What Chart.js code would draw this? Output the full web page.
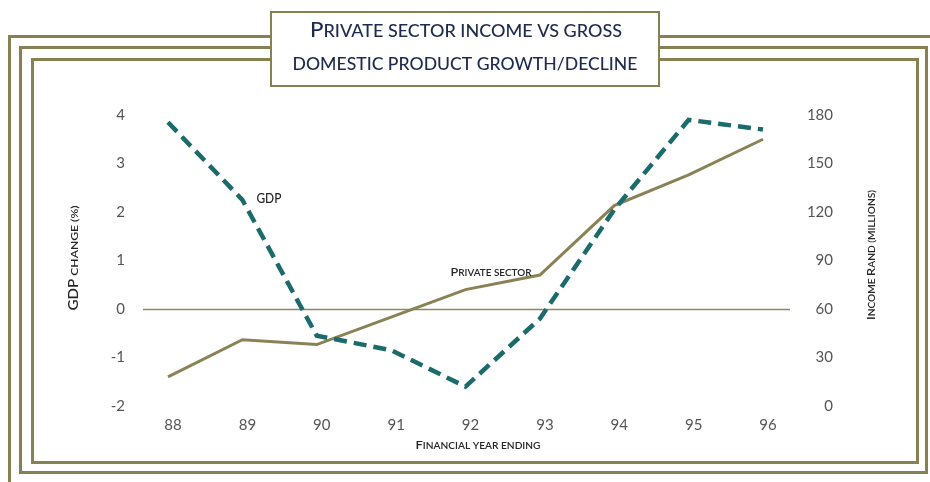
<!DOCTYPE html>
<html>
<head>
<meta charset="utf-8">
<script src="https://cdn.jsdelivr.net/npm/chart.js@4.4.1/dist/chart.umd.min.js"></script>
<style>
  html, body { margin: 0; padding: 0; background: #ffffff; }
  #wrap { width: 930px; height: 482px; position: relative; }
  canvas { display: block; }
</style>
</head>
<body>
<div id="wrap"><canvas id="chart" width="930" height="482"></canvas></div>
<script>
// Financial years and the two series
const years = ['88', '89', '90', '91', '92', '93', '94', '95', '96'];
const gdpChange = [3.85, 2.25, -0.55, -0.85, -1.6, -0.2, 2.05, 3.9, 3.7];      // % change
const privateIncome = [18, 41, 38, 55, 72, 81, 124, 143, 165];                  // Rand millions
const gdpTicks = [-2, -1, 0, 1, 2, 3, 4];
const incomeTicks = [0, 30, 60, 90, 120, 150, 180];

const titleLines = ['Private sector income vs gross', 'domestic product growth/decline'];
const gdpAxisTitle = 'GDP change (%)';
const incomeAxisTitle = 'Income Rand (millions)';
const yearAxisTitle = 'Financial year ending';
const gdpLabel = 'GDP';
const privateLabel = 'Private sector';

const OLIVE = '#878052';
const TEAL = '#1b6a6c';
const NAVY = '#1e2a4f';
const INK = '#262626';
const FAMILY = 'Lato, "Open Sans", sans-serif';

// Draws text in small capitals: capitals at the large size, lower case raised to capitals at the small size
function drawSmallCaps(ctx, text, x, y, big, small, align, color, fitWidth, weight) {
  weight = weight || 400;
  const runs = [];
  for (const ch of text) {
    const isUpperLetter = ch !== ch.toLowerCase();
    const size = isUpperLetter ? big : small;
    const c = ch.toUpperCase();
    const last = runs[runs.length - 1];
    if (last && last.size === size) last.t += c;
    else runs.push({ t: c, size: size });
  }
  let w = 0;
  runs.forEach(r => {
    ctx.font = weight + ' ' + r.size + 'px ' + FAMILY;
    r.w = ctx.measureText(r.t).width;
    w += r.w;
  });
  const sx = fitWidth ? fitWidth / w : 1;
  const total = w * sx;
  let start = align === 'center' ? x - total / 2 : align === 'right' ? x - total : x;
  ctx.save();
  ctx.fillStyle = color;
  ctx.textAlign = 'left';
  ctx.textBaseline = 'alphabetic';
  ctx.translate(start, y);
  ctx.scale(sx, 1);
  let cx = 0;
  runs.forEach(r => {
    ctx.font = weight + ' ' + r.size + 'px ' + FAMILY;
    ctx.fillText(r.t, cx, 0);
    cx += r.w;
  });
  ctx.restore();
}

// Triple olive border, title panel and the zero reference line
const decorations = {
  id: 'decorations',
  beforeDraw(chart) {
    const ctx = chart.ctx;
    ctx.save();
    ctx.fillStyle = '#ffffff';
    ctx.fillRect(0, 0, chart.width, chart.height);
    ctx.strokeStyle = OLIVE;
    ctx.lineWidth = 3;
    ctx.strokeRect(9.5, 36.5, 940, 460);
    ctx.strokeRect(20.5, 47.5, 906, 425);
    ctx.strokeRect(32.5, 59.5, 885, 403);
    // title panel
    ctx.fillStyle = '#ffffff';
    ctx.fillRect(271, 12, 388, 74);
    ctx.lineWidth = 2;
    ctx.strokeRect(271, 12, 388, 74);
    ctx.restore();
    drawSmallCaps(ctx, titleLines[0], 466, 37, 21, 17, 'center', NAVY, 312, 500);
    drawSmallCaps(ctx, titleLines[1], 465, 70, 17, 17, 'center', NAVY, 345, 500);
  },
  beforeDatasetsDraw(chart) {
    const ctx = chart.ctx;
    const y0 = Math.round(chart.scales.y.getPixelForValue(0)) + 0.5;
    const a = chart.chartArea;
    ctx.save();
    ctx.strokeStyle = '#8e8762';
    ctx.lineWidth = 1.3;
    ctx.beginPath();
    ctx.moveTo(a.left - 25, y0);
    ctx.lineTo(a.right + 27, y0);
    ctx.stroke();
    ctx.restore();
  },
  afterDraw(chart) {
    const ctx = chart.ctx;
    const x = chart.scales.x, y = chart.scales.y, y1 = chart.scales.y1;
    // axis titles
    ctx.save();
    ctx.translate(73, 258);
    ctx.rotate(-Math.PI / 2);
    drawSmallCaps(ctx, gdpAxisTitle, 0, 4.5, 12.5, 10, 'center', INK, 105, 600);
    ctx.restore();
    ctx.save();
    ctx.translate(870, 255);
    ctx.rotate(-Math.PI / 2);
    drawSmallCaps(ctx, incomeAxisTitle, 0, 4.5, 12, 9.5, 'center', INK, 130, 600);
    ctx.restore();
    drawSmallCaps(ctx, yearAxisTitle, 478, 449, 12, 9.5, 'center', INK, 125, 600);
    // series labels
    drawSmallCaps(ctx, gdpLabel, x.getPixelForValue(1) + 14, y.getPixelForValue(gdpChange[1]) + 3, 12.5, 10, 'left', INK, 25, 500);
    drawSmallCaps(ctx, privateLabel, x.getPixelForValue(4) - 15, y1.getPixelForValue(privateIncome[4]) - 14, 11.5, 9, 'left', INK, 81, 600);
  }
};

const tickFont = { family: FAMILY, size: 15, weight: 400 };

new Chart(document.getElementById('chart'), {
  type: 'line',
  data: {
    labels: years,
    datasets: [
      {
        label: 'GDP',
        data: gdpChange,
        yAxisID: 'y',
        borderColor: TEAL,
        borderWidth: 4.5,
        borderDash: [13, 7],
        borderCapStyle: 'butt',
        borderJoinStyle: 'miter',
        pointRadius: 0,
        tension: 0,
        fill: false
      },
      {
        label: 'Private sector',
        data: privateIncome,
        yAxisID: 'y1',
        borderColor: '#8a8256',
        borderWidth: 3,
        pointRadius: 0,
        tension: 0,
        fill: false
      }
    ]
  },
  options: {
    responsive: false,
    animation: false,
    devicePixelRatio: 1,
    layout: { padding: { left: 108, right: 97, top: 115, bottom: 36 } },
    plugins: { legend: { display: false }, tooltip: { enabled: false }, title: { display: false } },
    scales: {
      x: {
        type: 'category',
        offset: false,
        grid: { display: false, drawTicks: false },
        border: { display: false },
        ticks: { font: tickFont, color: '#555555', padding: 10, labelOffset: 5, maxRotation: 0, autoSkip: false },
        afterFit(s) { s.height = 40; }
      },
      y: {
        position: 'left',
        min: -2, max: 4,
        grid: { display: false, drawTicks: false },
        border: { display: false },
        afterBuildTicks(s) { s.ticks = gdpTicks.map(v => ({ value: v })); },
        ticks: { font: tickFont, color: '#555555', padding: 43 },
        afterFit(s) { s.width = 60; }
      },
      y1: {
        position: 'right',
        min: 0, max: 180,
        grid: { display: false, drawTicks: false },
        border: { display: false },
        afterBuildTicks(s) { s.ticks = incomeTicks.map(v => ({ value: v })); },
        ticks: { font: tickFont, color: '#555555', padding: 40, crossAlign: 'far' },
        afterFit(s) { s.width = 70; }
      }
    }
  },
  plugins: [decorations]
});
</script>
</body>
</html>
